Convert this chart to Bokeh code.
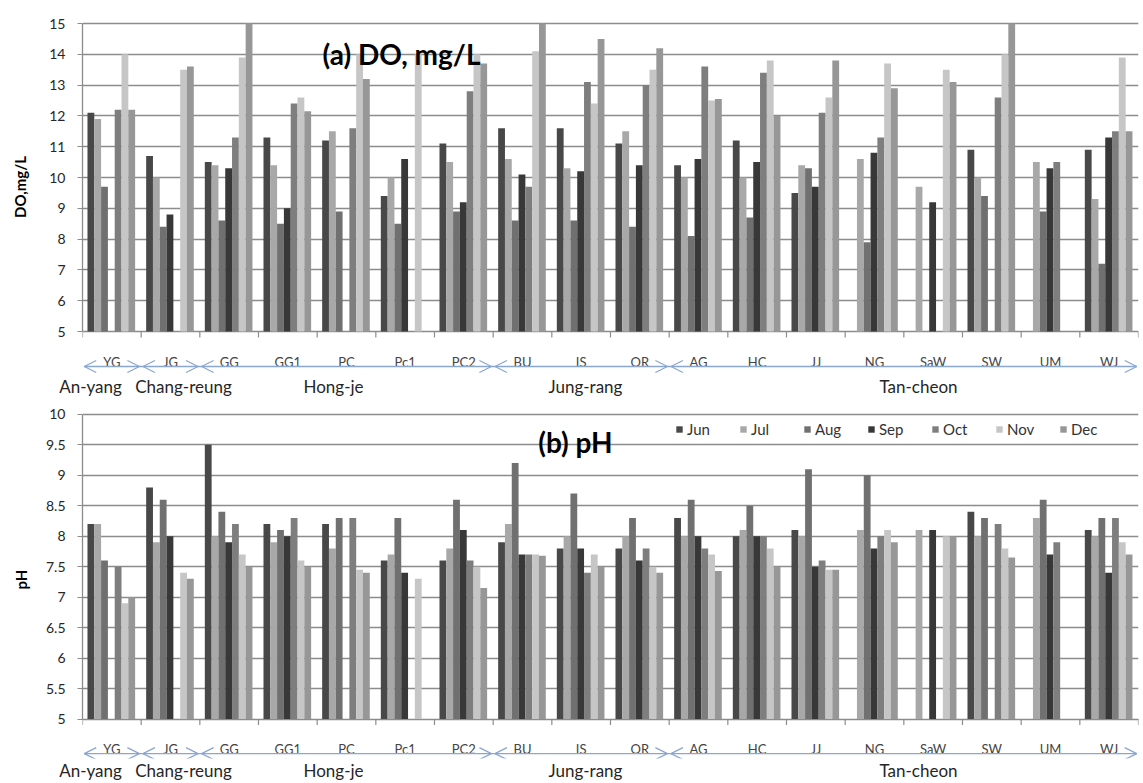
from bokeh.plotting import figure
from bokeh.layouts import column
from bokeh.models import (Range1d, FixedTicker, NumeralTickFormatter, Legend,
                          LegendItem, LinearAxis, ColumnDataSource)
from bokeh.core.properties import value
from bokeh.embed import file_html
from bokeh.resources import INLINE

# ---------------- data ----------------
sites = ["YG", "JG", "GG", "GG1", "PC", "Pc1", "PC2", "BU", "IS", "OR",
         "AG", "HC", "JJ", "NG", "SaW", "SW", "UM", "WJ"]
regions = ["An-yang", "Chang-reung", "Hong-je", "Jung-rang", "Tan-cheon"]
region_counts = [1, 1, 5, 3, 8]
months = ["Jun", "Jul", "Aug", "Sep", "Oct", "Nov", "Dec"]

N = None
do_jun = [12.1, 10.7, 10.5, 11.3, 11.2, 9.4, 11.1, 11.6, 11.6, 11.1, 10.4, 11.2, 9.5, N, N, 10.9, N, 10.9]
do_jul = [11.9, 10.0, 10.4, 10.4, 11.5, 10.0, 10.5, 10.6, 10.3, 11.5, 10.0, 10.0, 10.4, 10.6, 9.7, 10.0, 10.5, 9.3]
do_aug = [9.7, 8.4, 8.6, 8.5, 8.9, 8.5, 8.9, 8.6, 8.6, 8.4, 8.1, 8.7, 10.3, 7.9, N, 9.4, 8.9, 7.2]
do_sep = [N, 8.8, 10.3, 9.0, N, 10.6, 9.2, 10.1, 10.2, 10.4, 10.6, 10.5, 9.7, 10.8, 9.2, N, 10.3, 11.3]
do_oct = [12.2, N, 11.3, 12.4, 11.6, N, 12.8, 9.7, 13.1, 13.0, 13.6, 13.4, 12.1, 11.3, N, 12.6, 10.5, 11.5]
do_nov = [14.0, 13.5, 13.9, 12.6, 14.0, 14.0, 14.0, 14.1, 12.4, 13.5, 12.5, 13.8, 12.6, 13.7, 13.5, 14.0, N, 13.9]
do_dec = [12.2, 13.6, 15.0, 12.15, 13.2, N, 13.7, 15.0, 14.5, 14.2, 12.55, 12.0, 13.8, 12.9, 13.1, 15.0, N, 11.5]

ph_jun = [8.2, 8.8, 9.5, 8.2, 8.2, 7.6, 7.6, 7.9, 7.8, 7.8, 8.3, 8.0, 8.1, N, N, 8.4, N, 8.1]
ph_jul = [8.2, 7.9, 8.0, 7.9, 7.8, 7.7, 7.8, 8.2, 8.0, 8.0, 8.0, 8.1, 8.0, 8.1, 8.1, 8.0, 8.3, 8.0]
ph_aug = [7.6, 8.6, 8.4, 8.1, 8.3, 8.3, 8.6, 9.2, 8.7, 8.3, 8.6, 8.5, 9.1, 9.0, N, 8.3, 8.6, 8.3]
ph_sep = [N, 8.0, 7.9, 8.0, N, 7.4, 8.1, 7.7, 7.8, 7.6, 8.0, 8.0, 7.5, 7.8, 8.1, N, 7.7, 7.4]
ph_oct = [7.5, N, 8.2, 8.3, 8.3, N, 7.6, 7.7, 7.4, 7.8, 7.8, 8.0, 7.6, 8.0, N, 8.2, 7.9, 8.3]
ph_nov = [6.9, 7.4, 7.7, 7.6, 7.45, 7.3, 7.5, 7.7, 7.7, 7.5, 7.7, 7.8, 7.45, 8.1, 8.0, 7.8, N, 7.9]
ph_dec = [7.0, 7.3, 7.5, 7.5, 7.4, N, 7.15, 7.68, 7.5, 7.4, 7.43, 7.5, 7.45, 7.9, 8.0, 7.65, N, 7.7]

do_ticks = [5, 6, 7, 8, 9, 10, 11, 12, 13, 14, 15]
ph_ticks = [5, 5.5, 6, 6.5, 7, 7.5, 8, 8.5, 9, 9.5, 10]

do_series = [do_jun, do_jul, do_aug, do_sep, do_oct, do_nov, do_dec]
ph_series = [ph_jun, ph_jul, ph_aug, ph_sep, ph_oct, ph_nov, ph_dec]

# ---------------- style / layout ----------------
colors = ["#484848", "#a8a8a8", "#707070", "#383838", "#7e7e7e", "#c6c6c6", "#979797"]
FONT = "Lato"
GRID = "#8c8c8c"
BLUE = "#8aa6d2"
W = 1143
FRAME_L = 82          # page x of plot left edge
FRAME_R = 1138        # page x of plot right edge
NS = len(sites)
GW = (FRAME_R - FRAME_L) / NS
BAR_W = 0.116
BAR_OFF = 0.085
GROUP_LABEL_PX = [90, 183, 333, 585, 918]


def xd(px):
    return (px - FRAME_L) / GW


def make_panel(series, ticks, fig_top, fig_h, frame_bottom, v_hi, px_hi, v_lo, px_lo,
               ylabel, ylabel_standoff, title, title_px, layout_px, legend):
    k = (v_hi - v_lo) / (px_lo - px_hi)          # data units per pixel

    def yd(px):
        return v_hi - (px - px_hi) * k

    yr = Range1d(yd(frame_bottom), yd(fig_top))
    p = figure(width=W, height=fig_h, x_range=Range1d(0, NS), y_range=yr,
               x_axis_location=None, toolbar_location=None, output_backend="svg",
               min_border=0, min_border_left=FRAME_L, min_border_right=W - FRAME_R,
               min_border_bottom=fig_top + fig_h - frame_bottom)
    p.outline_line_color = None
    p.background_fill_color = "white"
    p.xgrid.visible = False
    p.ygrid.ticker = FixedTicker(ticks=ticks)
    p.ygrid.grid_line_color = GRID
    p.ygrid.grid_line_width = 1.5

    ax = p.yaxis[0]
    ax.ticker = FixedTicker(ticks=ticks)
    ax.formatter = NumeralTickFormatter(format="0.[0]")
    ax.bounds = (ticks[0], ticks[-1])
    ax.axis_line_color = GRID
    ax.axis_line_width = 1.3
    ax.major_tick_line_color = GRID
    ax.major_tick_out = 5
    ax.major_tick_in = 0
    ax.minor_tick_line_color = None
    ax.major_label_standoff = 12
    ax.major_label_text_font = FONT
    ax.major_label_text_font_size = "14px"
    ax.major_label_text_color = "#262626"
    ax.axis_label = ylabel
    ax.axis_label_text_font = FONT
    ax.axis_label_text_font_size = "15px"
    ax.axis_label_text_font_style = "bold"
    ax.axis_label_text_color = "#000000"
    ax.axis_label_standoff = ylabel_standoff

    renderers = []
    for j, (vals, col) in enumerate(zip(series, colors)):
        xs = [i + BAR_OFF + BAR_W * (j + 0.5) for i, v in enumerate(vals) if v is not None]
        tops = [v for v in vals if v is not None]
        src = ColumnDataSource(dict(x=xs, top=tops))
        r = p.vbar(x="x", top="top", bottom=ticks[0], width=BAR_W, source=src,
                   fill_color=col, line_color=None)
        renderers.append(r)

    # boundary ticks along the category axis
    bx = list(range(NS + 1))
    p.segment(x0=bx, x1=bx, y0=[ticks[0]] * len(bx), y1=[ticks[0] - 6 * k] * len(bx),
              line_color=GRID, line_width=1.2)

    site_y, line_y, group_standoff = layout_px
    # site labels
    p.text(x=[i + 0.5 for i in range(NS)], y=[yd(site_y)] * NS, text=sites,
           text_align="center", text_baseline="middle",
           text_font=value(FONT), text_font_size="13px", text_color="#444444")

    # blue span arrows for the region groups
    ly = yd(line_y)
    p.segment(x0=[0.03], x1=[NS - 0.03], y0=[ly], y1=[ly], line_color=BLUE, line_width=1.3)
    bounds = [0]
    for c in region_counts:
        bounds.append(bounds[-1] + c)
    dx = 12 / GW
    dy = 6 * k
    xs_ml, ys_ml = [], []
    for b in bounds:
        if b > 0:   # ">" closing the previous span
            t = b - 0.03
            xs_ml.append([t - dx, t, t - dx])
            ys_ml.append([ly + dy, ly, ly - dy])
        if b < NS:  # "<" opening the next span
            t = b + 0.03
            xs_ml.append([t + dx, t, t + dx])
            ys_ml.append([ly + dy, ly, ly - dy])
    p.multi_line(xs=xs_ml, ys=ys_ml, line_color=BLUE, line_width=1.3)

    # region labels on an extra axis (pixel-based range) below the frame
    p.extra_x_ranges = {"px": Range1d(FRAME_L, FRAME_R)}
    gax = LinearAxis(x_range_name="px", ticker=FixedTicker(ticks=GROUP_LABEL_PX),
                     major_label_overrides={gx: name for gx, name in zip(GROUP_LABEL_PX, regions)},
                     axis_line_color=None, major_tick_line_color=None,
                     minor_tick_line_color=None, major_tick_out=0, major_tick_in=0,
                     major_label_standoff=group_standoff,
                     major_label_text_font=FONT, major_label_text_font_size="17px",
                     major_label_text_color="#262626")
    p.add_layout(gax, "below")

    # panel title
    tx, ty = title_px
    p.text(x=[xd(tx)], y=[yd(ty)], text=[title], text_align="center",
           text_baseline="alphabetic", text_font=value(FONT), text_font_size="28px",
           text_font_style="bold", text_color="#000000")

    if legend:
        items = [LegendItem(label=m, renderers=[r]) for m, r in zip(months, renderers)]
        lg = Legend(items=items, orientation="horizontal",
                    location=(675 - FRAME_L, frame_bottom - 443),
                    glyph_width=8, glyph_height=8, label_standoff=4, label_width=40,
                    spacing=12, padding=0, margin=0, label_height=16,
                    label_text_font=FONT, label_text_font_size="15px",
                    label_text_color="#333333", border_line_color=None,
                    background_fill_alpha=0)
        p.add_layout(lg)
    return p


pa = make_panel(do_series, do_ticks, 0, 400, 373, 15, 23, 5, 331, "DO,mg/L", 17,
                "(a) DO, mg/L", (401, 53), (361, 366, 2), False)
pb = make_panel(ph_series, ph_ticks, 400, 383, 763, 10, 414, 5, 723, "pH", 13,
                "(b) pH", (575, 442), (753, 758, 1), True)

layout = column(pa, pb, spacing=0)
open("out.html", "w").write(file_html(layout, INLINE))
